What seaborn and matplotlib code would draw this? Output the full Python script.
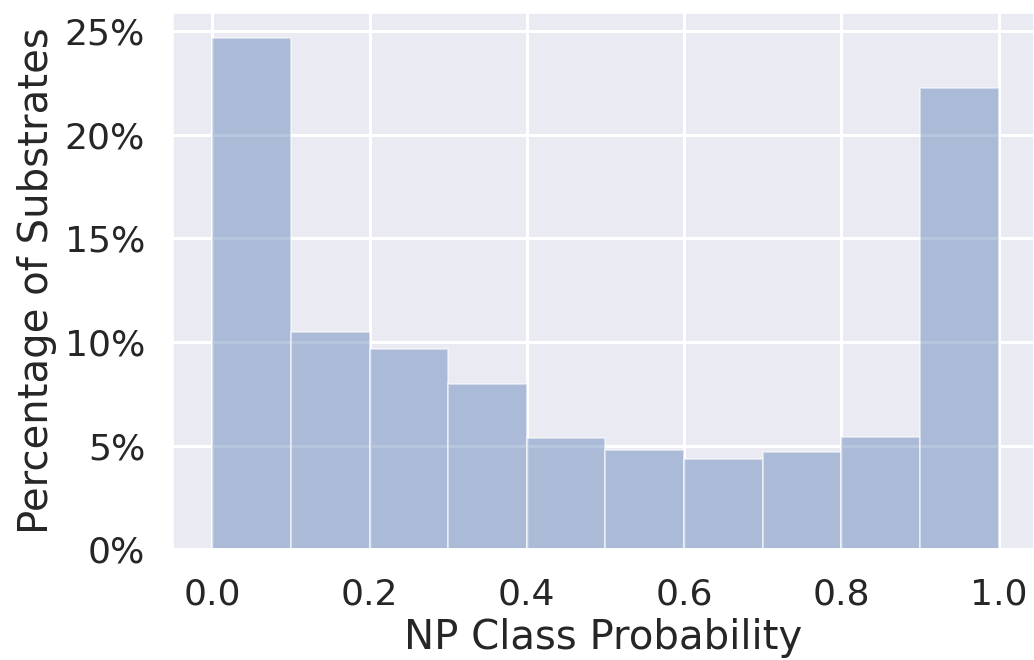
import numpy as np
import seaborn as sns
import matplotlib.pyplot as plt
from matplotlib.ticker import PercentFormatter

# NP class probability histogram, 10 bins of width 0.1
bin_edges = [0.0, 0.1, 0.2, 0.3, 0.4, 0.5, 0.6, 0.7, 0.8, 0.9, 1.0]
bin_centers = [0.05, 0.15, 0.25, 0.35, 0.45, 0.55, 0.65, 0.75, 0.85, 0.95]
pct_substrates = [24.64, 10.50, 9.65, 7.97, 5.39, 4.79, 4.36, 4.71, 5.42, 22.23]

sns.set_theme(style="darkgrid", font_scale=2.4)
plt.rcParams["grid.linewidth"] = 2.2

fig = plt.figure(figsize=(10.34, 6.6), dpi=100)
ax = fig.add_axes([173 / 1034, (660 - 549.4) / 660, (1034 - 173) / 1034, (549.4 - 12.8) / 660])

sns.histplot(x=bin_centers, weights=pct_substrates, bins=bin_edges,
             color=sns.color_palette()[0], alpha=0.4, edgecolor=(1, 1, 1, 0.5),
             linewidth=1.5, ax=ax)

ax.set_xlim(-0.05, 1.045)
ax.set_yticks([0, 5, 10, 15, 20, 25])
ax.yaxis.set_major_formatter(PercentFormatter(xmax=100, decimals=0))
ax.set_xlabel("NP Class Probability", fontsize=29, labelpad=5)
ax.set_ylabel("Percentage of Substrates", fontsize=29, labelpad=6)
ax.tick_params(labelsize=26, length=0, pad=20)

fig.savefig("out.png", dpi=100)
